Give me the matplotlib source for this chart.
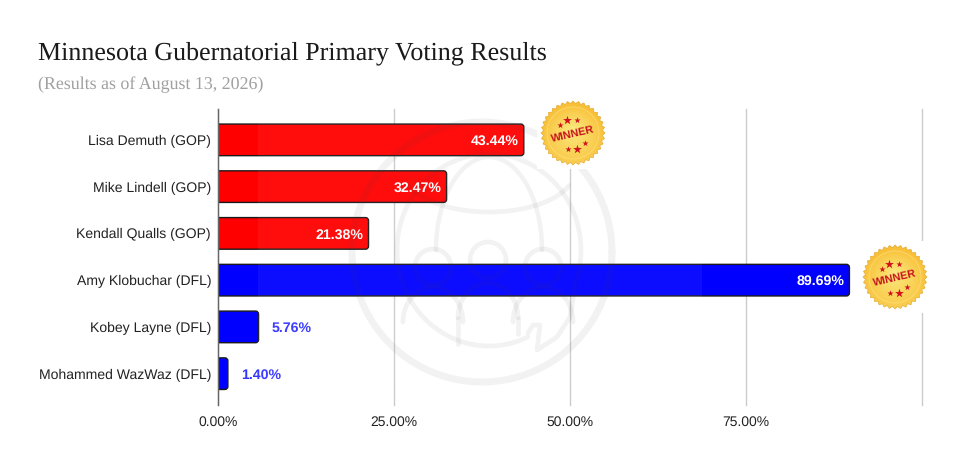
import matplotlib
matplotlib.use('Agg')
import matplotlib.pyplot as plt
import numpy as np
from matplotlib.patches import PathPatch, Polygon, Circle, Rectangle
from matplotlib.path import Path

plt.rcParams['font.family'] = ['Liberation Sans', 'DejaVu Sans']
plt.rcParams['text.hinting'] = 'no_hinting'

candidates = ['Lisa Demuth (GOP)', 'Mike Lindell (GOP)', 'Kendall Qualls (GOP)',
              'Amy Klobuchar (DFL)', 'Kobey Layne (DFL)', 'Mohammed WazWaz (DFL)']
shares = [43.44, 32.47, 21.38, 89.69, 5.76, 1.40]
parties = ['GOP', 'GOP', 'GOP', 'DFL', 'DFL', 'DFL']
winners = ['Lisa Demuth (GOP)', 'Amy Klobuchar (DFL)']
x_ticks = [0, 25, 50, 75, 100]
x_labels = ['0.00%', '25.00%', '50.00%', '75.00%', '']

bar_colors = {'GOP': '#ff0000', 'DFL': '#0000ff'}
label_colors = {'GOP': '#ff3333', 'DFL': '#3333ff'}

W, H = 960, 461
fig = plt.figure(figsize=(W / 100, H / 100), dpi=100, facecolor='white')
ax = fig.add_axes([218 / W, 1 - 405 / H, 704 / W, 296 / H])
ax.set_xlim(0, 100)
ax.set_ylim(5.67, -0.66)

for s in ['top', 'right', 'bottom']:
    ax.spines[s].set_visible(False)
ax.spines['left'].set_color('#666666')
ax.spines['left'].set_linewidth(1.0)
ax.spines['left'].set_zorder(5)
ax.set_xticks(x_ticks)
ax.set_xticklabels(x_labels, fontsize=10, color='#222222')
ax.set_yticks(range(len(candidates)))
ax.set_yticklabels(candidates, fontsize=10.1, color='#222222')
ax.tick_params(length=0)
ax.tick_params(axis='x', pad=7.5)
ax.tick_params(axis='y', pad=5)
ax.grid(axis='x', color='#cccccc', lw=1.0, clip_on=False)
ax.set_axisbelow(True)


def bar_path(value, row, half=0.338):
    # square on the axis, rounded on the far end
    rx, ry = 3 / 7.04, 3 / 46.7
    rx = min(rx, value / 2)
    top, bot = row - half, row + half
    verts = [(0, top), (value - rx, top), (value, top), (value, top + ry),
             (value, bot - ry), (value, bot), (value - rx, bot), (0, bot), (0, top)]
    codes = [Path.MOVETO, Path.LINETO, Path.CURVE3, Path.CURVE3,
             Path.LINETO, Path.CURVE3, Path.CURVE3, Path.LINETO, Path.CLOSEPOLY]
    return Path(verts, codes)


for i, (name, val, party) in enumerate(zip(candidates, shares, parties)):
    ax.add_patch(PathPatch(bar_path(val, i), fc=bar_colors[party], ec='#1a1a1a',
                           lw=1.0, zorder=3))
    label = f'{val:.2f}%'
    if val > 15:
        ax.annotate(label, (val, i), xytext=(-3.6, -1), textcoords='offset points',
                    ha='right', va='center', color='white', fontsize=10.2,
                    fontweight='bold', zorder=4)
    else:
        ax.annotate(label, (val, i), xytext=(9.6, -1), textcoords='offset points',
                    ha='left', va='center', color=label_colors[party], fontsize=10.2,
                    fontweight='bold', zorder=4)

# title block
fig.text(38 / W, 1 - 53 / H, 'Minnesota Gubernatorial Primary Voting Results',
         family='Liberation Serif', fontsize=18.7, color='#1a1a1a', va='center')
fig.text(38 / W, 1 - 85 / H, '(Results as of August 13, 2026)',
         family='Liberation Serif', fontsize=12.9, color='#a0a0a0', va='center')

# overlay in pixel coordinates for watermark and badges
ov = fig.add_axes([0, 0, 1, 1], facecolor='none')
ov.set_xlim(0, W)
ov.set_ylim(H, 0)
ov.axis('off')

ov.add_patch(Rectangle((258, 117), 444, 270, fc='white', ec='none', alpha=0.05, zorder=1))

wm_color, wm_alpha = '#444444', 0.065


def wm_line(xs, ys, lw=3.4):
    ov.plot(xs, ys, color=wm_color, alpha=wm_alpha, lw=lw, zorder=2, solid_capstyle='round')


def wm_arc(cx, cy, w, h, t1, t2, lw=3.4, extra=None):
    # angles run clockwise on screen because y points down here
    t = np.radians(np.linspace(t1, t2, 120))
    xs = list(cx + w / 2 * np.cos(t))
    ys = list(cy + h / 2 * np.sin(t))
    if extra:
        xs += [p[0] for p in extra]
        ys += [p[1] for p in extra]
    wm_line(xs, ys, lw)


wm_arc(482, 252, 260, 260, 0, 360, lw=5)
wm_arc(489, 250, 184, 192, 65, 380,
       extra=[(570, 317), (557, 337), (537, 350), (540, 325), (533, 325), (528, 333)])
wm_arc(489, 250, 106, 186, 180, 360, lw=3.2)
wm_arc(489, 172, 170, 80, 20, 160)
for cx, cy in [(433, 267), (488, 260), (543, 267)]:
    wm_arc(cx, cy, 36, 36, 0, 360)
for cx, cy in [(433, 322), (488, 318), (543, 322)]:
    wm_arc(cx, cy, 60, 70, 180, 360)
wm_line([458, 458], [318, 344])
wm_line([518, 518], [318, 334])

yy, xx = np.mgrid[-1:1:80j, -1:1:80j]
rr = np.clip(np.hypot(xx, yy + 0.15), 0, 1)
mix = np.clip(1 - 0.75 * rr + 0.25 * yy, 0, 1)
grad = np.dstack([np.full_like(mix, 0.98), 0.70 + 0.22 * mix, 0.13 + 0.38 * mix])


def draw_badge(cx, cy):
    ov.add_patch(Rectangle((cx - 36, cy - 36), 72, 72, fc='white', ec='none', zorder=6))
    n = 36
    ang = np.linspace(0, 2 * np.pi, 2 * n, endpoint=False)
    rad = np.where(np.arange(2 * n) % 2 == 0, 32, 29.5)
    pts = np.column_stack([cx + rad * np.cos(ang), cy + rad * np.sin(ang)])
    seal = Polygon(pts, closed=True, fc='none', ec='#e3ad35', lw=0.5, zorder=8)
    ov.add_patch(seal)
    im = ov.imshow(grad, extent=(cx - 33, cx + 33, cy + 33, cy - 33), aspect='auto', zorder=7)
    im.set_clip_path(seal)
    ov.add_patch(Circle((cx, cy), 26, fill=False, ec='#ffe88a', lw=0.5, alpha=0.7, zorder=8))
    ov.text(cx, cy + 1, 'WINNER', family='Liberation Sans',
            fontsize=7.8, fontweight='bold', color='#c8141c', rotation=13,
            ha='center', va='center', zorder=9)
    stars = [(-13, -8, 22), (-6, -13, 45), (4, -13, 22), (-5, 16, 22), (4, 16, 45), (12, 10, 22)]
    for dx, dy, s in stars:
        ov.scatter(cx + dx, cy + dy, marker='*', s=s, color='#d0101a', linewidths=0, zorder=9)


badge_centers = {'Lisa Demuth (GOP)': (573, 133), 'Amy Klobuchar (DFL)': (895, 277)}
for name in winners:
    draw_badge(*badge_centers[name])
ov.set_xlim(0, W)
ov.set_ylim(H, 0)

fig.savefig('out.png', dpi=100)
